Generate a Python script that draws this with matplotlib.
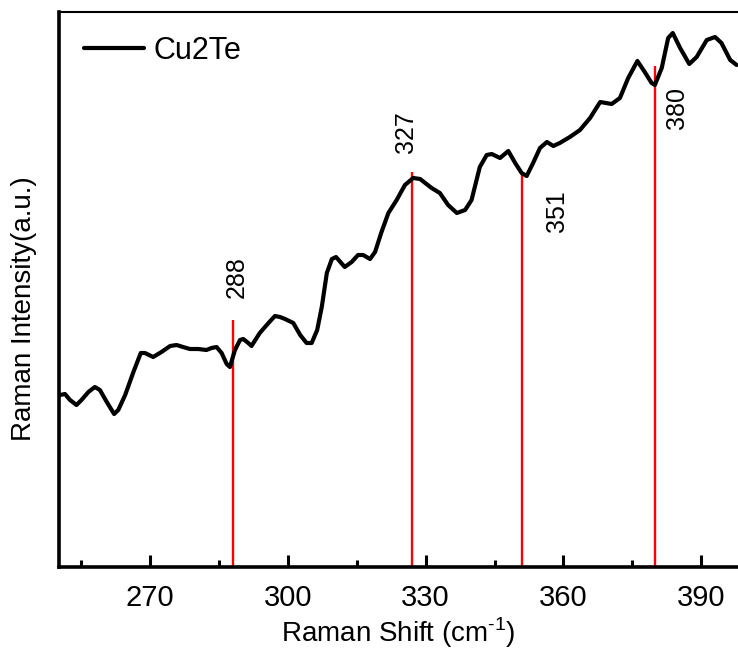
import matplotlib
matplotlib.use("Agg")
import matplotlib.pyplot as plt
from matplotlib.ticker import MultipleLocator

plt.rcParams['font.family'] = ['Liberation Sans', 'DejaVu Sans']
plt.rcParams['mathtext.fontset'] = 'custom'
plt.rcParams['mathtext.rm'] = 'Liberation Sans'

# Raman spectrum of Cu2Te (arbitrary intensity units)
shift = [250.4, 251.5, 252.6, 254.0, 255.1, 256.6, 258.0, 259.1, 260.6, 262.2,
         263.1, 264.6, 266.4, 268.0, 268.9, 270.7, 272.5, 274.4, 275.8, 277.2,
         278.7, 280.5, 282.3, 283.4, 284.5, 285.6, 286.7, 287.4, 288.5, 289.6,
         290.3, 291.4, 292.1, 293.9, 295.8, 297.2, 298.3, 299.4, 301.2, 302.7,
         304.1, 305.2, 306.4, 307.4, 308.5, 309.6, 310.5, 312.4, 313.9, 315.3,
         316.4, 317.9, 319.0, 320.4, 321.9, 323.7, 325.5, 327.3, 328.8, 331.3,
         333.1, 334.9, 336.8, 338.6, 340.0, 341.8, 343.3, 344.4, 346.2, 348.0,
         349.5, 350.9, 352.0, 353.4, 354.9, 356.4, 357.8, 359.2, 361.4, 363.6,
         365.8, 368.0, 370.5, 372.3, 374.1, 376.1, 377.7, 379.2, 379.9, 381.4,
         382.8, 383.8, 385.4, 387.4, 389.0, 391.2, 393.0, 394.4, 396.3, 397.7]
intensity = [172, 173, 167, 162, 167, 175, 180, 177, 165, 153,
             157, 172, 195, 214, 214, 210, 215, 221, 222, 220,
             218, 218, 217, 219, 220, 214, 203, 200, 217, 227,
             228, 224, 221, 234, 244, 251, 250, 248, 244, 232,
             224, 224, 237, 260, 294, 308, 310, 300, 305, 312,
             312, 308, 315, 335, 354, 367, 382, 389, 388, 379,
             374, 362, 354, 357, 367, 400, 412, 413, 409, 416,
             404, 394, 391, 404, 419, 425, 421, 424, 430, 437,
             449, 465, 463, 469, 489, 506, 495, 484, 482, 499,
             529, 534, 519, 503, 510, 527, 530, 524, 507, 502]

# Assigned peak positions, marker heights and label placement
peak_pos = [288, 327, 351, 380]
peak_height = [247, 395, 394, 501]
label_dx = [0.9, -1.3, 7.5, 4.8]
label_y = [290, 435, 356, 459]

xticks = [270, 300, 330, 360, 390]

fig = plt.figure(figsize=(7.38, 6.54), dpi=100)
ax = fig.add_axes([59 / 738, 87 / 654, 679 / 738, 555 / 654])

ax.plot(shift, intensity, color='black', lw=3.0, solid_joinstyle='round',
        solid_capstyle='round', label='Cu2Te', zorder=3)

for pos, h, dx, ly in zip(peak_pos, peak_height, label_dx, label_y):
    ax.vlines(pos, 0, h, color='#ff0000', lw=1.7, zorder=2)
    ax.text(pos + dx, ly, str(pos), rotation=90, ha='center', va='center',
            fontsize=18)

ax.set_xlim(250.2, 398)
ax.set_ylim(0, 555)
ax.set_xticks(xticks)
ax.xaxis.set_minor_locator(MultipleLocator(15))
ax.set_yticks([])
ax.tick_params(axis='x', which='major', direction='in', length=9, width=2.2,
               labelsize=21, pad=12, top=False)
ax.tick_params(axis='x', which='minor', direction='in', length=5, width=2.2,
               top=False)

for side in ('left', 'bottom'):
    ax.spines[side].set_linewidth(2.6)
ax.spines['top'].set_linewidth(1.5)
ax.spines['right'].set_visible(False)

ax.set_xlabel(r'Raman Shift (cm$^{\text{-1}}$)', fontsize=20, labelpad=3)
ax.set_ylabel('Raman Intensity(a.u.)', fontsize=20)
ax.yaxis.set_label_coords(-0.032, 0.465)

ax.legend(loc='center left', bbox_to_anchor=(25 / 679, 516 / 555),
          frameon=False, fontsize=22, handlelength=1.95, handletextpad=0.33,
          borderpad=0, borderaxespad=0)

fig.savefig('out.png', dpi=100)
